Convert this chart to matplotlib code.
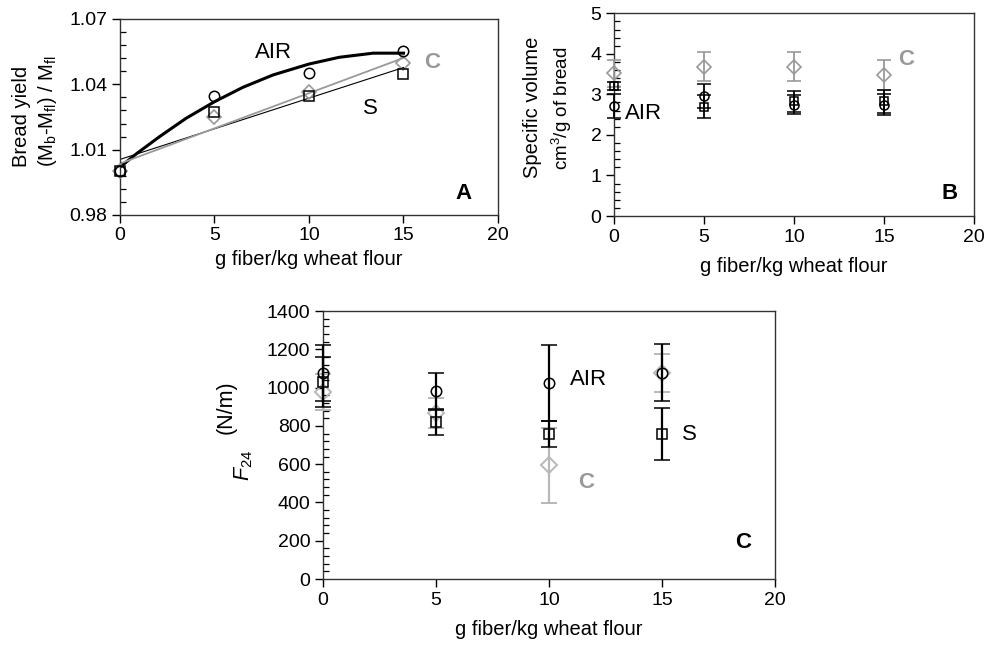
import numpy as np
import matplotlib
matplotlib.use('agg')
from matplotlib import pyplot as plt
from matplotlib.ticker import MultipleLocator, FixedLocator, FormatStrFormatter

plt.rcParams['font.family'] = ['Liberation Sans', 'DejaVu Sans']
plt.rcParams['mathtext.fontset'] = 'custom'
plt.rcParams['mathtext.rm'] = 'Liberation Sans'
plt.rcParams['mathtext.it'] = 'Liberation Sans:italic'

# ---------------------------------- data ----------------------------------
fiber = [0, 5, 10, 15]

# panel A: bread yield
yield_air = [1.000, 1.0348, 1.045, 1.0553]
yield_s = [1.000, 1.0274, 1.0348, 1.0446]
yield_c = [1.000, 1.0249, 1.0366, 1.050]
# trend lines
air_fit_x = [0, 0.9, 2.1, 3.5, 5, 6.5, 8.1, 10, 11.6, 13.4, 15]
air_fit_y = [1.002, 1.0083, 1.016, 1.0244, 1.032, 1.0386, 1.0443, 1.0493, 1.0524, 1.0543, 1.0543]
s_fit_x = [0, 15]
s_fit_y = [1.0055, 1.0477]
c_fit_x = [0, 15]
c_fit_y = [1.0036, 1.0521]
yield_ticks = [0.98, 1.01, 1.04, 1.07]

# panel B: specific volume
vol_air = [2.71, 2.96, 2.75, 2.75]
vol_air_err = [0.30, 0.30, 0.24, 0.25]
vol_s = [3.20, 2.70, 2.83, 2.83]
vol_s_err = [0.10, 0.29, 0.26, 0.28]
vol_c = [3.52, 3.68, 3.68, 3.49]
vol_c_err = [0.34, 0.36, 0.36, 0.37]

# panel C: F24
f_air = [1078, 980, 1024, 1078]
f_air_err = [146, 97, 200, 148]
f_s = [1029, 820, 759, 757]
f_s_err = [130, 70, 67, 135]
f_c = [977, 867, 594, 1076]
f_c_err = [96, 80, 195, 98]

xlabel = 'g fiber/kg wheat flour'

# ---------------------------------- figure ----------------------------------
fig = plt.figure(figsize=(9.98, 6.45), dpi=100)
axA = fig.add_axes([0.1202, 0.6667, 0.3788, 0.3039])
axB = fig.add_axes([0.6152, 0.6651, 0.3607, 0.3143])
axC = fig.add_axes([0.3236, 0.1023, 0.4529, 0.4155])

gray = '#999999'
lgray = '#b8b8b8'


def style_axis(ax, ymin, ymax, ymajor, yminor, pad):
    ax.set_xlim(0, 20)
    ax.set_ylim(ymin, ymax)
    ax.xaxis.set_major_locator(MultipleLocator(5))
    ax.yaxis.set_major_locator(MultipleLocator(ymajor))
    ax.yaxis.set_minor_locator(MultipleLocator(yminor))
    ax.tick_params(which='major', direction='out', length=6, width=1,
                   labelsize=14, pad=3)
    ax.tick_params(axis='y', which='minor', direction='in', length=4, width=0.9)
    for sp in ax.spines.values():
        sp.set_linewidth(1)
        sp.set_color('#333333')
    ax.set_xlabel(xlabel, fontsize=14.5, labelpad=pad)


# ---- panel A
axA.plot(air_fit_x, air_fit_y, color='black', lw=2.2, zorder=2)
axA.plot(s_fit_x, s_fit_y, color='black', lw=0.8, zorder=2)
axA.plot(c_fit_x, c_fit_y, color=gray, lw=1.3, zorder=2)
axA.plot(fiber, yield_c, 'D', ms=7, mfc='none', mec=gray, mew=1.2, ls='none', zorder=3, clip_on=False)
axA.plot(fiber, yield_s, 's', ms=6.5, mfc='none', mec='black', mew=1.1, ls='none', zorder=4, clip_on=False)
axA.plot(fiber, yield_air, 'o', ms=7.5, mfc='none', mec='black', mew=1.1, ls='none', zorder=4, clip_on=False)
style_axis(axA, 0.98, 1.07, 0.03, 0.006, 4)
axA.yaxis.set_major_locator(FixedLocator(yield_ticks))
axA.yaxis.set_minor_locator(FixedLocator(np.linspace(yield_ticks[0], yield_ticks[-1], 16)))
axA.yaxis.set_major_formatter(FormatStrFormatter('%.2f'))
axA.text(8.1, 1.0548, 'AIR', fontsize=16, ha='center', va='center')
axA.text(13.23, 1.0291, 'S', fontsize=16, ha='center', va='center')
axA.text(16.5, 1.0498, 'C', fontsize=16, ha='center', va='center', color=gray, weight='bold')
axA.text(18.2, 0.990, 'A', fontsize=16, ha='center', va='center', weight='bold')
fig.text(0.0217, 0.741, 'Bread yield', rotation=90, ha='center', va='bottom', fontsize=14.5)
fig.text(0.048, 0.741, r'(M$_\mathrm{b}$-M$_\mathrm{fl}$) / M$_\mathrm{fl}$', rotation=90,
         ha='center', va='bottom', fontsize=14.5)


def draw_errors(ax, vals, errs, marker, ms, color, mew, cap, lw, z):
    ax.errorbar(fiber, vals, yerr=errs, fmt=marker, ms=ms, mfc='none', mec=color, mew=mew,
                ecolor=color, ls='none', capsize=cap, elinewidth=lw, capthick=lw,
                zorder=z, clip_on=False)


# ---- panel B
draw_errors(axB, vol_c, vol_c_err, 'D', 7, gray, 1.2, 5, 1.3, 3)
draw_errors(axB, vol_s, vol_s_err, 's', 5.5, 'black', 1.1, 5, 1.3, 4)
draw_errors(axB, vol_air, vol_air_err, 'o', 6.5, 'black', 1.1, 5, 1.3, 4)
style_axis(axB, 0, 5, 1, 0.2, 8)
axB.text(0.6, 2.54, 'AIR', fontsize=16, ha='left', va='center')
axB.text(16.24, 3.87, 'C', fontsize=16, ha='center', va='center', color=gray, weight='bold')
axB.text(18.65, 0.56, 'B', fontsize=16, ha='center', va='center', weight='bold')
fig.text(0.534, 0.724, 'Specific volume', rotation=90, ha='center', va='bottom', fontsize=14.5)
fig.text(0.563, 0.736, r'cm$^3$/g of bread', rotation=90, ha='center', va='bottom', fontsize=13.5)

# ---- panel C
draw_errors(axC, f_c, f_c_err, 'D', 8, lgray, 1.4, 6, 1.6, 3)
draw_errors(axC, f_s, f_s_err, 's', 7, 'black', 1.1, 6, 1.6, 4)
draw_errors(axC, f_air, f_air_err, 'o', 7.5, 'black', 1.1, 6, 1.6, 4)
style_axis(axC, 0, 1400, 200, 40, 8)
axC.text(11.73, 1043, 'AIR', fontsize=16, ha='center', va='center')
axC.text(16.2, 756, 'S', fontsize=16, ha='center', va='center')
axC.text(11.66, 502, 'C', fontsize=16, ha='center', va='center', color=gray, weight='bold')
axC.text(18.57, 192, 'C', fontsize=16, ha='center', va='center', weight='bold')
fig.text(0.227, 0.369, '(N/m)', rotation=90, ha='center', va='center', fontsize=15.5)
fig.text(0.2445, 0.279, r'$F_{24}$', rotation=90, ha='center', va='center', fontsize=15.5)

plt.savefig('out.png', dpi=100)
